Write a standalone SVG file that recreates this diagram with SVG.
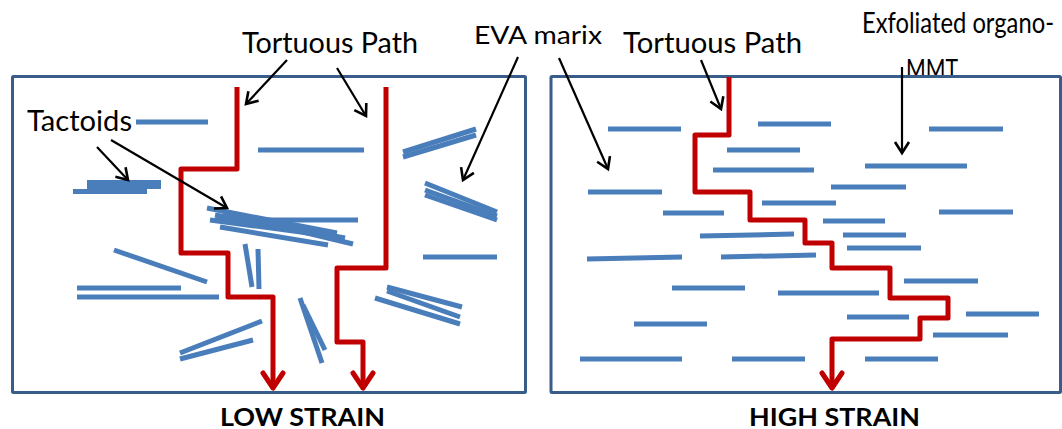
<svg xmlns="http://www.w3.org/2000/svg" width="1062" height="429" viewBox="0 0 1062 429">
  <style>
    .lbl { font-family: Lato, "Liberation Sans", sans-serif; fill: #000; }
    .cap { font-family: Lato, "Liberation Sans", sans-serif; font-weight: bold; fill: #000; }
    .box { fill: #fff; stroke: #385D8A; stroke-width: 3; }
    .clay line { stroke: #4A7EBB; stroke-width: 5; stroke-linecap: butt; }
    .path { fill: none; stroke: #C00000; stroke-width: 5; stroke-linejoin: round; marker-end: url(#redHead); }
    .ptr { fill: none; stroke: #000; stroke-width: 2.2; marker-end: url(#blackHead); }
  </style>
  <defs>
    <marker id="blackHead" markerUnits="userSpaceOnUse" markerWidth="30" markerHeight="30" viewBox="-15 -15 30 30" refX="0" refY="0" orient="auto">
      <path d="M-11,-7 L0,0 L-11,7" fill="none" stroke="#000" stroke-width="2.6" stroke-linejoin="miter"/>
    </marker>
    <marker id="redHead" markerUnits="userSpaceOnUse" markerWidth="40" markerHeight="40" viewBox="-20 -20 40 40" refX="0" refY="0" orient="auto">
      <path d="M-15,-10 L0,0 L-15,10" fill="none" stroke="#C00000" stroke-width="5" stroke-linejoin="round" stroke-linecap="round"/>
    </marker>
  </defs>

  <!-- second line of the organo-MMT label rests on the panel frame -->
  <text class="lbl" x="906" y="79" font-size="27" textLength="52" lengthAdjust="spacingAndGlyphs">MMT</text>

  <!-- panel frames -->
  <g id="panel-low">
    <rect class="box" x="12.5" y="76.5" width="513" height="316" rx="1"/>
  </g>
  <g id="panel-high">
    <rect class="box" x="551" y="76.5" width="509.5" height="316" rx="1"/>
  </g>

  <!-- low strain: tactoids and scattered platelets -->
  <g id="clay-low" class="clay">
    <line x1="136" y1="122" x2="208" y2="122"/>
    <line x1="87" y1="184.5" x2="161" y2="184.5" style="stroke-width:9"/>
    <line x1="73" y1="191.5" x2="147" y2="191.5"/>
    <line x1="258" y1="150" x2="364" y2="150"/>
    <line x1="215" y1="220" x2="358" y2="220"/>
    <line x1="207" y1="208" x2="337" y2="233"/>
    <line x1="210" y1="220" x2="338" y2="237"/>
    <line x1="220" y1="227" x2="328" y2="245"/>
    <line x1="223" y1="213" x2="353" y2="244"/>
    <line x1="215" y1="215" x2="345" y2="238"/>
    <line x1="114" y1="250" x2="207" y2="282"/>
    <line x1="77" y1="288" x2="181" y2="288"/>
    <line x1="77" y1="297" x2="219" y2="297"/>
    <line x1="245" y1="244" x2="252" y2="287"/>
    <line x1="258" y1="249" x2="259" y2="289"/>
    <line x1="180" y1="353" x2="262" y2="321"/>
    <line x1="180" y1="359" x2="253" y2="340"/>
    <line x1="300" y1="298" x2="322" y2="363"/>
    <line x1="303" y1="305" x2="325" y2="350"/>
    <line x1="423" y1="257" x2="497" y2="257"/>
    <line x1="387" y1="287" x2="462" y2="307"/>
    <line x1="375" y1="298" x2="460" y2="324"/>
    <line x1="387" y1="291" x2="460" y2="317"/>
    <line x1="403" y1="152" x2="476" y2="129"/>
    <line x1="403" y1="157" x2="476" y2="135"/>
    <line x1="425" y1="183" x2="497" y2="212"/>
    <line x1="425" y1="190" x2="497" y2="216"/>
    <line x1="425" y1="195" x2="497" y2="220"/>
  </g>

  <!-- high strain: exfoliated platelets -->
  <g id="clay-high" class="clay">
    <line x1="608" y1="129" x2="681" y2="129"/>
    <line x1="758" y1="124" x2="831" y2="124"/>
    <line x1="929" y1="129" x2="1003" y2="129"/>
    <line x1="727" y1="150" x2="800" y2="150"/>
    <line x1="865" y1="166" x2="967" y2="166"/>
    <line x1="713" y1="170" x2="814" y2="170"/>
    <line x1="588" y1="192" x2="662" y2="192"/>
    <line x1="831" y1="187" x2="906" y2="187"/>
    <line x1="663" y1="213" x2="724" y2="213"/>
    <line x1="762" y1="203" x2="836" y2="203"/>
    <line x1="939" y1="212" x2="1013" y2="212"/>
    <line x1="823" y1="221" x2="885" y2="221"/>
    <line x1="700" y1="236" x2="794" y2="234"/>
    <line x1="843" y1="235" x2="906" y2="235"/>
    <line x1="847" y1="248" x2="921" y2="248"/>
    <line x1="587" y1="259" x2="682" y2="257"/>
    <line x1="721" y1="257" x2="816" y2="255"/>
    <line x1="672" y1="288" x2="745" y2="288"/>
    <line x1="778" y1="293" x2="879" y2="293"/>
    <line x1="904" y1="281" x2="978" y2="281"/>
    <line x1="634" y1="324" x2="707" y2="324"/>
    <line x1="847" y1="317" x2="909" y2="317"/>
    <line x1="966" y1="314" x2="1039" y2="314"/>
    <line x1="933" y1="335" x2="1008" y2="335"/>
    <line x1="580" y1="359" x2="682" y2="359"/>
    <line x1="732" y1="359" x2="805" y2="359"/>
    <line x1="865" y1="359" x2="938" y2="359"/>
  </g>

  <!-- diffusion paths -->
  <g id="connectors">
    <polyline class="path" points="237,87 237,169 181,169 181,253 228,253 228,297 273,297 273,388"/>
    <polyline class="path" points="386,87 386,268 337,268 337,342 363,342 363,388"/>
    <polyline class="path" points="729,77 729,135 695,135 695,192 750,192 750,220 805,220 805,243 832,243 832,268 890,268 890,298 948,298 948,318 920,318 920,339 832,339 832,388"/>

    <!-- callout pointers -->
    <line class="ptr" x1="287" y1="60" x2="246" y2="104"/>
    <line class="ptr" x1="337" y1="68" x2="366" y2="116"/>
    <line class="ptr" x1="518" y1="57" x2="463" y2="180"/>
    <line class="ptr" x1="559" y1="58" x2="608" y2="169"/>
    <line class="ptr" x1="701" y1="60" x2="721" y2="109"/>
    <line class="ptr" x1="902" y1="67" x2="902" y2="153"/>
    <line class="ptr" x1="97" y1="147" x2="128" y2="180"/>
    <line class="ptr" x1="111" y1="140" x2="227" y2="208"/>
  </g>

  <!-- labels -->
  <g id="labels">
    <text class="lbl" x="242" y="53" font-size="28" textLength="176" lengthAdjust="spacingAndGlyphs">Tortuous Path</text>
    <text class="lbl" x="474" y="44" font-size="25" textLength="128" lengthAdjust="spacingAndGlyphs">EVA marix</text>
    <text class="lbl" x="623" y="53" font-size="28" textLength="179" lengthAdjust="spacingAndGlyphs">Tortuous Path</text>
    <text class="lbl" x="862" y="33" font-size="28" textLength="192" lengthAdjust="spacingAndGlyphs">Exfoliated organo-</text>
    <text class="lbl" x="27" y="131" font-size="28" textLength="105" lengthAdjust="spacingAndGlyphs">Tactoids</text>
    <text class="cap" x="220" y="426" font-size="25" textLength="165" lengthAdjust="spacingAndGlyphs">LOW STRAIN</text>
    <text class="cap" x="749" y="426" font-size="25" textLength="171" lengthAdjust="spacingAndGlyphs">HIGH STRAIN</text>
  </g>
</svg>
